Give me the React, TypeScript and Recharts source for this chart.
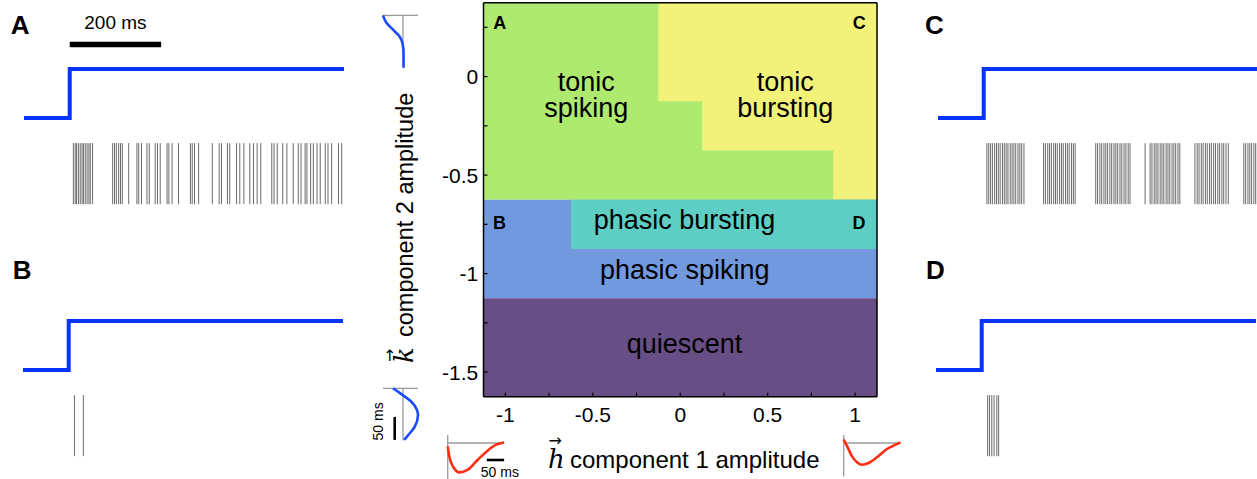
import React from 'react';
import {
  ComposedChart,
  LineChart,
  Line,
  XAxis,
  YAxis,
  ReferenceArea,
  ReferenceLine,
  ReferenceDot,
  Customized,
} from 'recharts';

const SANS = '"Liberation Sans", Arial, Helvetica, sans-serif';
const SERIF = '"DejaVu Serif", "Liberation Serif", serif';

// ---------------- stimulus step (ms, normalised level) ----------------
const stimTimes = [-100, 0, 600];
const stimLevels = [0, 1, 1];
const stimData = stimTimes.map((t, i) => ({ t, v: stimLevels[i] }));

// ---------------- spike times (ms after step onset) ----------------
const spikesA = [
  8, 12, 15, 19, 23, 27, 30, 34, 38, 42, 45, 50,
  94, 98, 102, 107, 111, 115, 129, 147, 151, 157, 169, 174,
  187, 192, 198, 213, 217, 224, 238, 264, 268, 273, 282,
  312, 327, 332, 345, 350, 365, 372, 381, 394, 402, 410, 418,
  442, 447, 454, 466, 475, 489, 500, 506, 515, 519, 527, 533,
  541, 548, 559, 565, 573, 588, 595,
];
const spikesB = [12.5, 32];
const spikesC = [
  7, 11, 15, 19, 24, 28, 32, 36, 41, 45, 49, 53, 58, 62, 66, 70, 75, 79, 83, 88,
  131, 135, 140, 144, 148, 153, 157, 161, 166, 170, 174, 179, 183, 187, 192, 196, 200,
  245, 249, 254, 258, 263, 267, 271, 276, 280, 285, 289, 293, 298, 302, 307, 311, 316, 320,
  353,
  364, 368, 373, 377, 381, 386, 390, 394, 399, 403, 407, 412, 416, 420, 425, 429,
  462, 467, 471, 476, 480, 485, 489, 494, 498, 503, 507, 512, 516, 521, 525, 530, 535,
  569, 573, 578, 582, 586, 591, 595, 599,
];
const spikesD = [13, 17, 22, 27, 33, 37];
const rasterSpan = [-0.51, -1.755];
const scaleBarMs = [0, 200];
const scaleBarLevel = 1.5;

// ---------------- phase diagram ----------------
const hDomain = [-1.125, 1.125];
const kDomain = [-1.625, 0.375];
const hTicks = [-1, -0.75, -0.5, -0.25, 0, 0.25, 0.5, 0.75, 1];
const kTicks = [-1.5, -1.25, -1, -0.75, -0.5, -0.25, 0, 0.25];

// regime blocks (later blocks painted over earlier ones)
const blockRegime = ['tonic spiking', 'tonic bursting', 'tonic bursting', 'tonic bursting', 'phasic spiking', 'phasic bursting', 'quiescent'];
const blockH1 = [-1.125, -0.125, 0.125, 0.875, -1.125, -0.625, -1.125];
const blockH2 = [1.125, 1.125, 1.125, 1.125, 1.125, 1.125, 1.125];
const blockK1 = [-0.625, -0.125, -0.375, -0.625, -1.125, -0.875, -1.625];
const blockK2 = [0.375, 0.375, 0.375, 0.375, -0.625, -0.625, -1.125];

const regimeColors: Record<string, string> = {
  'tonic spiking': '#adea6f',
  'tonic bursting': '#f2f27b',
  'phasic bursting': '#5ecdc3',
  'phasic spiking': '#7299dd',
  quiescent: '#674f86',
};

const labelLines = [['tonic', 'spiking'], ['tonic', 'bursting'], ['phasic bursting'], ['phasic spiking'], ['quiescent']];
const labelH = [-0.538, 0.601, 0.024, 0.026, 0.024];
const labelK = [-0.072, -0.072, -0.775, -1.029, -1.401];

const exampleIds = ['A', 'C', 'B', 'D'];
const exampleH = [-1.032, 1.024, -1.033, 1.022];
const exampleK = [0.244, 0.244, -0.775, -0.775];

// ---------------- kernels ----------------
const kTopT = [0, 16, 31, 46, 60, 82, 114];
const kTopA = [-1.0, -0.83, -0.5, -0.17, -0.03, 0.03, 0.03];
const kBotT = [0, 7, 15, 29, 47, 58, 84, 102, 112];
const kBotA = [-0.5, -0.25, 0, 0.42, 0.7, 0.75, 0.58, 0.25, 0.05];
const hLeftT = [0, 4.6, 16, 34, 58, 87, 116, 140, 163];
const hLeftA = [-0.34, -1.34, -2.4, -2.94, -2.67, -1.67, -0.74, -0.17, 0.06];
const hRightT = [0, 10, 24, 39, 53, 72, 97, 125, 150, 164];
const hRightA = [0.33, -0.34, -1.34, -1.94, -2.17, -2.0, -1.4, -0.6, -0.17, 0.06];

const kTop = kTopT.map((t, i) => ({ t, a: kTopA[i] }));
const kBot = kBotT.map((t, i) => ({ t, a: kBotA[i] }));
const hLeft = hLeftT.map((t, i) => ({ t, a: hLeftA[i] }));
const hRight = hRightT.map((t, i) => ({ t, a: hRightA[i] }));

const GRAY = '#9a9a9a';
const BLUE_K = '#1a4cff';
const RED_K = '#ff2d14';

const fmtHalf = (v: number) => (Math.abs(v * 2 - Math.round(v * 2)) < 1e-9 ? String(v) : '');

const pageLetters = [
  { id: 'A', x: 10.7, y: 34 },
  { id: 'B', x: 12.7, y: 279.3 },
  { id: 'C', x: 925, y: 34 },
  { id: 'D', x: 926, y: 279.3 },
];

function PageLetters() {
  return (
    <g>
      {pageLetters.map((p) => (
        <text key={p.id} x={p.x} y={p.y} fontFamily={SANS} fontWeight="bold" fontSize={26} fill="#000">
          {p.id}
        </text>
      ))}
    </g>
  );
}

function XLabel() {
  return (
    <g fill="#000">
      <text x={548} y={468.3} fontFamily={SERIF} fontStyle="italic" fontSize={26}>h</text>
      <text x={548.5} y={446} fontFamily='"DejaVu Sans", sans-serif' fontSize={16}>→</text>
      <text x={570} y={468.3} fontFamily={SANS} fontSize={24}>component 1 amplitude</text>
    </g>
  );
}

function YLabel() {
  return (
    <g fill="#000" transform="translate(413, 363) rotate(-90)">
      <text x={0} y={0} fontFamily={SERIF} fontStyle="italic" fontSize={26}>k</text>
      <text x={1} y={-18} fontFamily='"DejaVu Sans", sans-serif' fontSize={16}>→</text>
      <text x={26} y={0} fontFamily={SANS} fontSize={23.5}>component 2 amplitude</text>
    </g>
  );
}

function PhaseDiagram() {
  return (
    <div style={{ position: 'absolute', left: 0, top: 0 }}>
      <ComposedChart width={1257} height={479} margin={{ top: 1.7, right: 379, bottom: 52.3, left: 423.5 }}>
        {blockRegime.map((r, i) => (
          <ReferenceArea
            key={i}
            x1={blockH1[i]}
            x2={blockH2[i]}
            y1={blockK1[i]}
            y2={blockK2[i]}
            fill={regimeColors[r]}
            fillOpacity={1}
            stroke="none"
            ifOverflow="visible"
          />
        ))}
        <XAxis
          type="number"
          dataKey="h"
          domain={hDomain}
          ticks={hTicks}
          interval={0}
          allowDataOverflow
          height={30}
          tickFormatter={fmtHalf}
          tickSize={-4}
          tickMargin={14}
          axisLine={{ stroke: '#000', strokeWidth: 1.5 }}
          tickLine={{ stroke: '#000', strokeWidth: 1.2 }}
          tick={{ fontSize: 21, fill: '#000', fontFamily: SANS }}
          label={{ content: () => <XLabel /> }}
        />
        <YAxis
          type="number"
          domain={kDomain}
          ticks={kTicks}
          interval={0}
          allowDataOverflow
          width={60}
          tickFormatter={fmtHalf}
          tickSize={-4}
          tickMargin={9.3}
          axisLine={{ stroke: '#000', strokeWidth: 1.5 }}
          tickLine={{ stroke: '#000', strokeWidth: 1.2 }}
          tick={{ fontSize: 21, fill: '#000', fontFamily: SANS }}
          label={{ content: () => <YLabel /> }}
        />
        <XAxis
          xAxisId="top"
          orientation="top"
          type="number"
          domain={hDomain}
          ticks={hTicks}
          interval={0}
          allowDataOverflow
          height={1}
          tick={false}
          tickSize={-4}
          axisLine={{ stroke: '#000', strokeWidth: 1.5 }}
          tickLine={{ stroke: '#000', strokeWidth: 1.2 }}
        />
        <YAxis
          yAxisId="right"
          orientation="right"
          type="number"
          domain={kDomain}
          ticks={kTicks}
          interval={0}
          allowDataOverflow
          width={1}
          tick={false}
          tickSize={-4}
          axisLine={{ stroke: '#000', strokeWidth: 1.5 }}
          tickLine={{ stroke: '#000', strokeWidth: 1.2 }}
        />
        {labelLines.map((lines, i) => (
          <ReferenceDot
            key={'lab' + i}
            x={labelH[i]}
            y={labelK[i]}
            r={0}
            fill="none"
            stroke="none"
            label={{
              content: (p: any) => {
                const vb = p.viewBox || {};
                return (
                  <text x={vb.x} y={vb.y} textAnchor="middle" fontFamily={SANS} fontSize={27} fill="#000">
                    {lines.map((l, j) => (
                      <tspan key={j} x={vb.x} dy={j === 0 ? 0 : 26.5}>
                        {l}
                      </tspan>
                    ))}
                  </text>
                );
              },
            }}
          />
        ))}
        {exampleIds.map((id, i) => (
          <ReferenceDot
            key={'ex' + id}
            x={exampleH[i]}
            y={exampleK[i]}
            r={0}
            fill="none"
            stroke="none"
            label={{
              content: (p: any) => {
                const vb = p.viewBox || {};
                return (
                  <text x={vb.x} y={vb.y} textAnchor="middle" fontFamily={SANS} fontWeight="bold" fontSize={18} fill="#000">
                    {id}
                  </text>
                );
              },
            }}
          />
        ))}
        <Customized component={PageLetters} />
      </ComposedChart>
    </div>
  );
}

type PanelProps = { spikes: number[]; left: number; top: number; scaleBar?: boolean };

function StepPanel({ spikes, left, top, scaleBar }: PanelProps) {
  return (
    <div style={{ position: 'absolute', left, top }}>
      <ComposedChart width={350} height={222.24} data={stimData} margin={{ top: 20, left: 24, right: 6, bottom: 6 }}>
        <XAxis type="number" dataKey="t" domain={[-100, 600]} hide />
        <YAxis type="number" domain={[-2, 2]} hide />
        {spikes.map((t, i) => (
          <ReferenceLine
            key={i}
            segment={[
              { x: t, y: rasterSpan[0] },
              { x: t, y: rasterSpan[1] },
            ]}
            stroke="#6a6a6a"
            strokeWidth={1}
          />
        ))}
        {scaleBar && (
          <ReferenceLine
            segment={[
              { x: scaleBarMs[0], y: scaleBarLevel },
              { x: scaleBarMs[1], y: scaleBarLevel },
            ]}
            stroke="#000"
            strokeWidth={5.6}
            label={{ value: '200 ms', position: 'top', offset: 16, fontSize: 19, fill: '#000', fontFamily: SANS }}
          />
        )}
        <Line
          type="stepAfter"
          dataKey="v"
          stroke="#0733ff"
          strokeWidth={4}
          dot={false}
          isAnimationActive={false}
        />
      </ComposedChart>
    </div>
  );
}

function KernelV({ data, left, top, marginLeft, bar }: { data: { t: number; a: number }[]; left: number; top: number; marginLeft: number; bar?: boolean }) {
  return (
    <div style={{ position: 'absolute', left, top }}>
      <LineChart width={42 + marginLeft + 4} height={62.74} data={data} margin={{ top: 4, left: marginLeft, right: 4, bottom: 4 }}>
        <XAxis type="number" dataKey="a" domain={[-1.2, 0.9]} hide />
        <YAxis type="number" domain={[-3, 116]} reversed hide />
        <ReferenceLine segment={[{ x: -1, y: 0 }, { x: 0.75, y: 0 }]} stroke={GRAY} strokeWidth={1.3} />
        <ReferenceLine segment={[{ x: 0, y: 0 }, { x: 0, y: 113 }]} stroke={GRAY} strokeWidth={1.3} />
        {bar && (
          <ReferenceLine
            segment={[{ x: -0.415, y: 62 }, { x: -0.415, y: 112 }]}
            stroke="#000"
            strokeWidth={2.6}
            label={{
              content: (p: any) => {
                const vb = p.viewBox || {};
                const cy = vb.y + (vb.height || 0) / 2 - 7;
                return (
                  <text
                    transform={`translate(${vb.x - 11.7}, ${cy}) rotate(-90)`}
                    textAnchor="middle"
                    fontFamily={SANS}
                    fontSize={14}
                    fill="#000"
                  >
                    50 ms
                  </text>
                );
              },
            }}
          />
        )}
        <Line type="monotoneY" dataKey="t" stroke={BLUE_K} strokeWidth={2.6} dot={false} isAnimationActive={false} />
      </LineChart>
    </div>
  );
}

function KernelH({ data, left, top, marginRight, bar, axisBottom }: { data: { t: number; a: number }[]; left: number; top: number; marginRight: number; bar?: boolean; axisBottom: number }) {
  return (
    <div style={{ position: 'absolute', left, top }}>
      <LineChart width={60.55 + 4 + marginRight} height={56} data={data} margin={{ top: 4, left: 4, right: marginRight, bottom: 4 }}>
        <XAxis type="number" dataKey="t" domain={[-5, 170]} hide />
        <YAxis type="number" domain={[-3.8, 1.0]} hide />
        <ReferenceLine segment={[{ x: 0, y: 0.8 }, { x: 0, y: axisBottom }]} stroke={GRAY} strokeWidth={1.3} />
        <ReferenceLine segment={[{ x: 0, y: 0 }, { x: 163, y: 0 }]} stroke={GRAY} strokeWidth={1.3} />
        {bar && (
          <ReferenceLine
            segment={[{ x: 113, y: -1.7 }, { x: 163, y: -1.7 }]}
            stroke="#000"
            strokeWidth={2.6}
            label={{
              content: (p: any) => {
                const vb = p.viewBox || {};
                return (
                  <text x={vb.x - 6} y={vb.y + 16.7} fontFamily={SANS} fontSize={14} fill="#000">
                    50 ms
                  </text>
                );
              },
            }}
          />
        )}
        <Line type="monotone" dataKey="a" stroke={RED_K} strokeWidth={2.6} dot={false} isAnimationActive={false} />
      </LineChart>
    </div>
  );
}

export default function App() {
  return (
    <div
      style={{
        position: 'absolute',
        left: 0,
        top: 0,
        width: 1257,
        height: 479,
        overflow: 'hidden',
        background: '#fff',
        fontFamily: SANS,
      }}
    >
      <PhaseDiagram />
      <StepPanel spikes={spikesA} left={0} top={-0.06} scaleBar />
      <StepPanel spikes={spikesB} left={-1.4} top={251.64} />
      <StepPanel spikes={spikesC} left={914.3} top={-0.06} />
      <StepPanel spikes={spikesD} left={912} top={251.64} />
      <KernelV data={kTop} left={375.3} top={10.32} marginLeft={4} />
      <KernelV data={kBot} left={363.3} top={382.92} marginLeft={16} bar />
      <KernelH data={hLeft} left={441.97} top={429.3} marginRight={22} bar axisBottom={-3.8} />
      <KernelH data={hRight} left={837.57} top={429.3} marginRight={4} axisBottom={-3.34} />
    </div>
  );
}
